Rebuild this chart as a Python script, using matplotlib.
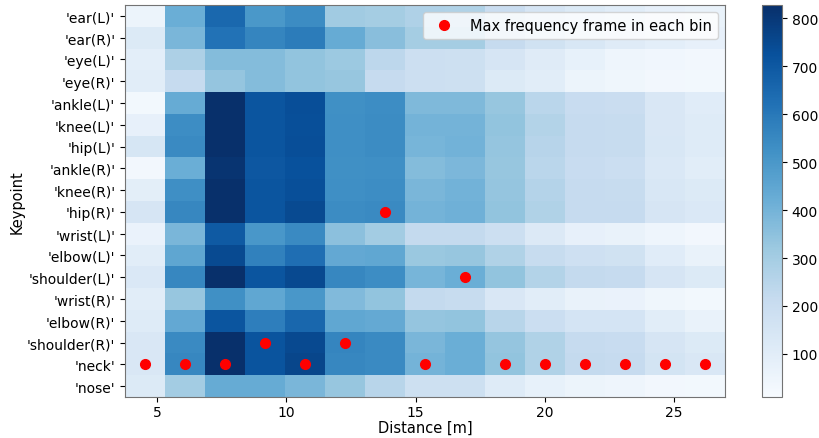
import numpy as np
import matplotlib
matplotlib.use('Agg')
import matplotlib.pyplot as plt

keypoints = ["'ear(L)'", "'ear(R)'", "'eye(L)'", "'eye(R)'", "'ankle(L)'", "'knee(L)'",
             "'hip(L)'", "'ankle(R)'", "'knee(R)'", "'hip(R)'", "'wrist(L)'", "'elbow(L)'",
             "'shoulder(L)'", "'wrist(R)'", "'elbow(R)'", "'shoulder(R)'", "'neck'", "'nose'"]

# distance bin edges [m]
bin_edges = [3.76, 5.31, 6.85, 8.40, 9.95, 11.50, 13.04, 14.59, 16.14,
             17.68, 19.23, 20.78, 22.32, 23.87, 25.42, 26.97]

# frame counts per keypoint (rows) and distance bin (columns)
counts = [
    [55, 420, 650, 500, 540, 310, 300, 275, 270, 200, 150, 120, 100, 80, 70],    # ear(L)
    [120, 390, 620, 560, 590, 430, 360, 300, 300, 215, 170, 140, 110, 90, 80],   # ear(R)
    [90, 280, 370, 370, 340, 320, 240, 190, 185, 150, 110, 75, 50, 40, 35],      # eye(L)
    [100, 215, 335, 370, 340, 330, 215, 190, 185, 120, 100, 55, 45, 35, 30],     # eye(R)
    [30, 430, 828, 710, 735, 525, 535, 380, 380, 330, 245, 205, 200, 135, 105],  # ankle(L)
    [80, 535, 828, 710, 730, 530, 540, 400, 400, 340, 265, 215, 210, 135, 115],  # knee(L)
    [145, 545, 828, 710, 735, 530, 540, 395, 405, 335, 255, 215, 210, 140, 115], # hip(L)
    [35, 420, 815, 705, 725, 525, 530, 370, 385, 330, 245, 205, 195, 130, 100],  # ankle(R)
    [95, 530, 828, 710, 730, 530, 535, 390, 405, 335, 260, 215, 210, 140, 120],  # knee(R)
    [150, 555, 828, 710, 745, 540, 545, 400, 410, 340, 270, 215, 215, 150, 130], # hip(R)
    [65, 390, 695, 505, 545, 355, 305, 220, 220, 190, 125, 80, 70, 50, 35],      # wrist(L)
    [100, 450, 745, 575, 630, 440, 445, 325, 330, 270, 210, 180, 170, 105, 70],  # elbow(L)
    [130, 555, 828, 710, 750, 555, 535, 395, 420, 340, 265, 220, 215, 150, 120], # shoulder(L)
    [100, 330, 525, 445, 505, 375, 340, 220, 210, 135, 100, 70, 65, 45, 30],     # wrist(R)
    [115, 440, 710, 585, 655, 445, 435, 335, 340, 250, 195, 155, 155, 100, 70],  # elbow(R)
    [135, 545, 828, 715, 750, 560, 545, 390, 420, 335, 270, 215, 205, 150, 120], # shoulder(R)
    [135, 555, 828, 715, 760, 555, 545, 400, 420, 340, 270, 220, 215, 160, 135], # neck
    [120, 305, 430, 430, 390, 330, 250, 185, 185, 115, 75, 55, 50, 35, 30],      # nose
]

# keypoint holding the max-frequency frame in each bin
max_keypoint = ["'neck'", "'neck'", "'neck'", "'shoulder(R)'", "'neck'", "'shoulder(R)'",
                "'hip(R)'", "'neck'", "'shoulder(L)'", "'neck'", "'neck'", "'neck'",
                "'neck'", "'neck'", "'neck'"]

edges = np.array(bin_edges)
centers = (edges[:-1] + edges[1:]) / 2
rows = [keypoints.index(k) for k in max_keypoint]

fig = plt.figure(figsize=(8.19, 4.39), dpi=100)
ax = fig.add_axes([125 / 819, 41 / 439, 600 / 819, 392 / 439])
cax = fig.add_axes([762 / 819, 41 / 439, 20 / 819, 392 / 439])

mesh = ax.pcolormesh(edges, np.arange(len(keypoints) + 1) - 0.5, np.array(counts),
                     cmap='Blues', vmin=10, vmax=828)
ax.plot(centers, rows, 'o', color='red', markersize=7, lw=0,
        label='Max frequency frame in each bin')
ax.set_ylim(len(keypoints) - 0.5, -0.5)
ax.set_xlim(edges[0], edges[-1])
ax.set_yticks(range(len(keypoints)))
ax.set_yticklabels(keypoints)
ax.set_xticks([5, 10, 15, 20, 25])
ax.tick_params(labelsize=10)
ax.tick_params(axis='x', pad=2.5)
ax.set_xlabel('Distance [m]', fontsize=10.5, labelpad=0)
ax.set_ylabel('Keypoint', fontsize=10.5, labelpad=2)
for s in ax.spines.values():
    s.set_edgecolor('0.45')
ax.legend(loc='upper right', fontsize=10.5, framealpha=0.8)

cb = fig.colorbar(mesh, cax=cax)
cb.set_ticks([100, 200, 300, 400, 500, 600, 700, 800])
cb.ax.tick_params(labelsize=10)
cb.outline.set_edgecolor('0.45')

fig.savefig('out.png', dpi=100)
